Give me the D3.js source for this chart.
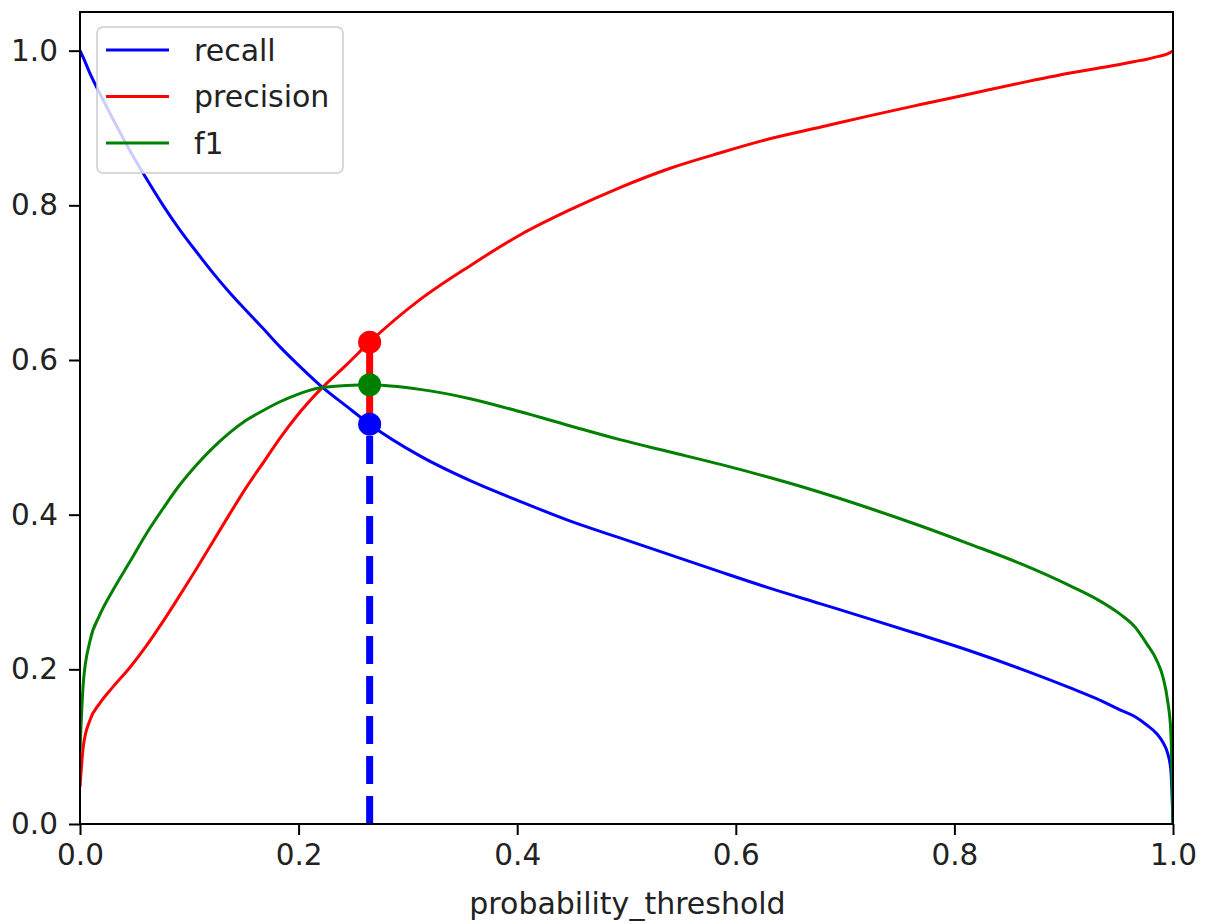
<!DOCTYPE html>
<html>
<head>
<meta charset="utf-8">
<script src="https://cdn.jsdelivr.net/npm/d3@7"></script>
<style>
  html, body { margin: 0; padding: 0; background: #fff; }
  svg text { font-family: "DejaVu Sans", sans-serif; fill: #222; }
</style>
</head>
<body>
<div id="chart"></div>
<script>
// Schwellenwerte (x) und die drei Kurven
const thresholds = [0, 0.003, 0.009, 0.018, 0.03, 0.046, 0.061, 0.076, 0.091, 0.107,
    0.122, 0.137, 0.152, 0.168, 0.183, 0.198, 0.22, 0.244, 0.265, 0.311,
    0.357, 0.403, 0.448, 0.494, 0.54, 0.586, 0.631, 0.677, 0.723, 0.768,
    0.814, 0.86, 0.906, 0.93, 0.951, 0.965, 0.976, 0.985, 0.991, 0.995, 0.998, 1.0];

const recall = [1.0, 0.991, 0.971, 0.945, 0.912, 0.87, 0.834, 0.8, 0.769, 0.739,
    0.712, 0.687, 0.664, 0.64, 0.617, 0.596, 0.567, 0.54, 0.517, 0.476,
    0.444, 0.417, 0.392, 0.37, 0.348, 0.326, 0.305, 0.285, 0.265, 0.245,
    0.224, 0.201, 0.176, 0.162, 0.148, 0.139, 0.128, 0.117, 0.105, 0.092, 0.07, 0.0];

const precision = [0.048, 0.1, 0.134, 0.156, 0.177, 0.203, 0.231, 0.262, 0.295, 0.331,
    0.366, 0.401, 0.435, 0.468, 0.499, 0.527, 0.562, 0.594, 0.623, 0.678,
    0.722, 0.762, 0.794, 0.823, 0.848, 0.868, 0.886, 0.901, 0.916, 0.93,
    0.944, 0.958, 0.971, 0.977, 0.982, 0.986, 0.989, 0.992, 0.994, 0.996, 0.998, 1.0];

const f1 = [0.095, 0.182, 0.236, 0.27, 0.302, 0.34, 0.376, 0.408, 0.438, 0.465,
    0.487, 0.506, 0.522, 0.535, 0.546, 0.555, 0.564, 0.567, 0.568, 0.562,
    0.55, 0.533, 0.515, 0.497, 0.481, 0.465, 0.448, 0.429, 0.408, 0.386,
    0.362, 0.337, 0.308, 0.291, 0.272, 0.255, 0.233, 0.212, 0.189, 0.16, 0.12, 0.0];

// gewählter Schwellenwert mit den Werten an dieser Stelle
const bestThreshold = 0.265;
const bestRecall = 0.517;
const bestPrecision = 0.623;
const bestF1 = 0.568;

const xTicks = [0, 0.2, 0.4, 0.6, 0.8, 1.0];
const yTicks = [0, 0.2, 0.4, 0.6, 0.8, 1.0];

const seriesNames = ["recall", "precision", "f1"];
const seriesColors = ["#0000ff", "#ff0000", "#008000"];
const seriesValues = [recall, precision, f1];

// Dimensionen
const W = 1209, H = 924;
const margin = { top: 12, right: 36, bottom: 100, left: 80 };
const width = W - margin.left - margin.right;
const height = H - margin.top - margin.bottom;

const svg = d3.select("#chart")
    .append("svg")
    .attr("width", W)
    .attr("height", H);

const g = svg.append("g")
    .attr("transform", `translate(${margin.left},${margin.top})`);

// Skalen
const x = d3.scaleLinear().domain([0, 1]).range([0, width]);
const y = d3.scaleLinear().domain([0, 1.05]).range([height, 0]);

g.append("clipPath")
    .attr("id", "plot-clip")
    .append("rect")
    .attr("width", width)
    .attr("height", height);

const plot = g.append("g").attr("clip-path", "url(#plot-clip)");

const curve = d3.line()
    .x(d => x(d[0]))
    .y(d => y(d[1]))
    .curve(d3.curveMonotoneX);

const straight = d3.line()
    .x(d => x(d[0]))
    .y(d => y(d[1]));

// Kurven
seriesValues.forEach((vals, i) => {
    plot.append("path")
        .datum(thresholds.map((t, k) => [t, vals[k]]))
        .attr("fill", "none")
        .attr("stroke", seriesColors[i])
        .attr("stroke-width", 3)
        .attr("stroke-linejoin", "round")
        .attr("d", curve);
});

// Markierung des Schwellenwerts
plot.append("path")
    .datum([[bestThreshold, bestRecall], [bestThreshold, bestPrecision]])
    .attr("fill", "none")
    .attr("stroke", "#ff0000")
    .attr("stroke-width", 7)
    .attr("d", straight);

plot.append("path")
    .datum([[bestThreshold, 0], [bestThreshold, bestRecall]])
    .attr("fill", "none")
    .attr("stroke", "#0000ff")
    .attr("stroke-width", 7)
    .attr("stroke-dasharray", "28,12")
    .attr("d", straight);

[[bestPrecision, "#ff0000"], [bestF1, "#008000"], [bestRecall, "#0000ff"]].forEach(([v, c]) => {
    plot.append("circle")
        .attr("cx", x(bestThreshold))
        .attr("cy", y(v))
        .attr("r", 11.5)
        .attr("fill", c);
});

// Achsen
const xAxis = g.append("g")
    .attr("transform", `translate(0,${height})`)
    .call(d3.axisBottom(x).tickValues(xTicks).tickFormat(d3.format(".1f")).tickSize(11).tickPadding(9));

const yAxis = g.append("g")
    .call(d3.axisLeft(y).tickValues(yTicks).tickFormat(d3.format(".1f")).tickSize(11).tickPadding(11));

[xAxis, yAxis].forEach(a => {
    a.select(".domain").remove();
    a.selectAll(".tick line").attr("stroke", "#000").attr("stroke-width", 2);
    a.selectAll(".tick text").style("font-size", "29.5px").attr("fill", "#222");
});

g.append("rect")
    .attr("width", width)
    .attr("height", height)
    .attr("fill", "none")
    .attr("stroke", "#000")
    .attr("stroke-width", 2);

g.append("text")
    .attr("x", width / 2 + 1)
    .attr("y", height + 90)
    .attr("text-anchor", "middle")
    .style("font-size", "30px")
    .text("probability_threshold");

// Legende
const legend = g.append("g").attr("transform", "translate(17,15)");
legend.append("rect")
    .attr("width", 246)
    .attr("height", 146)
    .attr("rx", 6)
    .attr("fill", "#fff")
    .attr("fill-opacity", 0.8)
    .attr("stroke", "#cccccc")
    .attr("stroke-width", 1.5);

seriesNames.forEach((name, i) => {
    const yy = 23 + i * 46.5;
    legend.append("line")
        .attr("x1", 9).attr("x2", 72)
        .attr("y1", yy).attr("y2", yy)
        .attr("stroke", seriesColors[i])
        .attr("stroke-width", 3);
    legend.append("text")
        .attr("x", 97)
        .attr("y", yy)
        .attr("dy", "0.35em")
        .style("font-size", "30px")
        .text(name);
});
</script>
</body>
</html>
